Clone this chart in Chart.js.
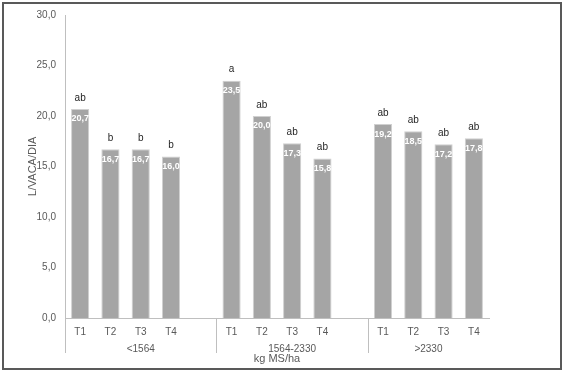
<!DOCTYPE html>
<html>
<head>
<meta charset="utf-8">
<script src="https://cdn.jsdelivr.net/npm/chart.js@4.4.0/dist/chart.umd.min.js"></script>
<style>
  html, body { margin: 0; padding: 0; background: #fff; }
  #wrap { width: 564px; height: 372px; position: relative; }
</style>
</head>
<body>
<div id="wrap"><canvas id="chart"></canvas></div>
<script>
// 14 slots: 3 groups of T1..T4 with an empty slot between groups
const treatments = ['T1', 'T2', 'T3', 'T4', '', 'T1', 'T2', 'T3', 'T4', '', 'T1', 'T2', 'T3', 'T4'];
const litres = [20.7, 16.7, 16.7, 16.0, null, 23.5, 20.0, 17.3, 15.8, null, 19.2, 18.5, 17.2, 17.8];
const letters = ['ab', 'b', 'b', 'b', '', 'a', 'ab', 'ab', 'ab', '', 'ab', 'ab', 'ab', 'ab'];
const groups = ['<1564', '1564-2330', '>2330'];
const groupStart = [0, 5, 10];
const groupEnd = [4, 9, 13];
const yTicks = [0, 5, 10, 15, 20, 25, 30];

const FONT = "'Liberation Sans', Arial, sans-serif";
const GREY_TEXT = '#595959';
const AXIS = '#bfbfbf';

const fmt = (v) => v.toFixed(1).replace('.', ',');

const decorPlugin = {
  id: 'decor',
  afterDatasetsDraw(chart) {
    const { ctx } = chart;
    const meta = chart.getDatasetMeta(0);
    ctx.save();
    ctx.textAlign = 'center';
    ctx.textBaseline = 'middle';
    meta.data.forEach((bar, i) => {
      if (litres[i] == null) return;
      ctx.font = 'bold 9px ' + FONT;
      ctx.fillStyle = '#ffffff';
      ctx.fillText(fmt(litres[i]), bar.x, bar.y + 10);
      ctx.font = '10px ' + FONT;
      ctx.fillStyle = '#262626';
      ctx.fillText(letters[i], bar.x, bar.y - 11);
    });
    ctx.restore();
  },
  afterDraw(chart) {
    const { ctx, chartArea } = chart;
    const x = chart.scales.x;
    ctx.save();
    // group separators below the axis
    ctx.strokeStyle = AXIS;
    ctx.lineWidth = 1;
    const bounds = [-0.5, 4.5, 9.5];
    bounds.forEach((b) => {
      const px = Math.round(x.getPixelForValue(b)) + 0.5;
      ctx.beginPath();
      ctx.moveTo(px, chartArea.bottom);
      ctx.lineTo(px, chartArea.bottom + 35);
      ctx.stroke();
    });
    // group labels
    ctx.font = '10px ' + FONT;
    ctx.fillStyle = GREY_TEXT;
    ctx.textAlign = 'center';
    ctx.textBaseline = 'middle';
    groups.forEach((g, i) => {
      const left = x.getPixelForValue(groupStart[i] - 0.5);
      const right = x.getPixelForValue(groupEnd[i] + 0.5);
      ctx.fillText(g, (left + right) / 2, chartArea.bottom + 31);
    });
    // axis title
    ctx.font = '11px ' + FONT;
    ctx.fillText('kg MS/ha', (chartArea.left + chartArea.right) / 2, chartArea.bottom + 41);
    // outer frame
    ctx.strokeStyle = '#595959';
    ctx.lineWidth = 2;
    ctx.strokeRect(3, 3, 558, 366);
    ctx.restore();
  },
};

new Chart(document.getElementById('chart'), {
  type: 'bar',
  data: {
    labels: treatments,
    datasets: [
      {
        data: litres,
        backgroundColor: '#a5a5a5',
        borderColor: '#d0d0d0',
        borderWidth: 1,
        categoryPercentage: 1,
        barPercentage: 0.6,
      },
    ],
  },
  options: {
    responsive: true,
    maintainAspectRatio: false,
    animation: false,
    layout: { padding: { left: 0, top: 13, right: 75, bottom: 0 } },
    plugins: {
      legend: { display: false },
      tooltip: { enabled: false },
    },
    scales: {
      x: {
        grid: { display: false, drawTicks: false },
        border: { display: true, color: AXIS },
        ticks: {
          autoSkip: false,
          maxRotation: 0,
          padding: 8,
          color: GREY_TEXT,
          font: { family: FONT, size: 10 },
        },
        afterFit: (scale) => { scale.height = 54; },
      },
      y: {
        min: 0,
        max: 30,
        grid: { display: false, drawTicks: false },
        border: { display: true, color: AXIS },
        afterBuildTicks: (scale) => { scale.ticks = yTicks.map((v) => ({ value: v })); },
        ticks: {
          padding: 9,
          color: GREY_TEXT,
          font: { family: FONT, size: 10 },
          callback: (v) => fmt(v),
        },
        title: {
          display: true,
          text: 'L/VACA/DIA',
          color: GREY_TEXT,
          font: { family: FONT, size: 11 },
          padding: { top: 26, bottom: 0 },
        },
        afterFit: (scale) => { scale.width = 65; },
      },
    },
  },
  plugins: [decorPlugin],
});
</script>
</body>
</html>
